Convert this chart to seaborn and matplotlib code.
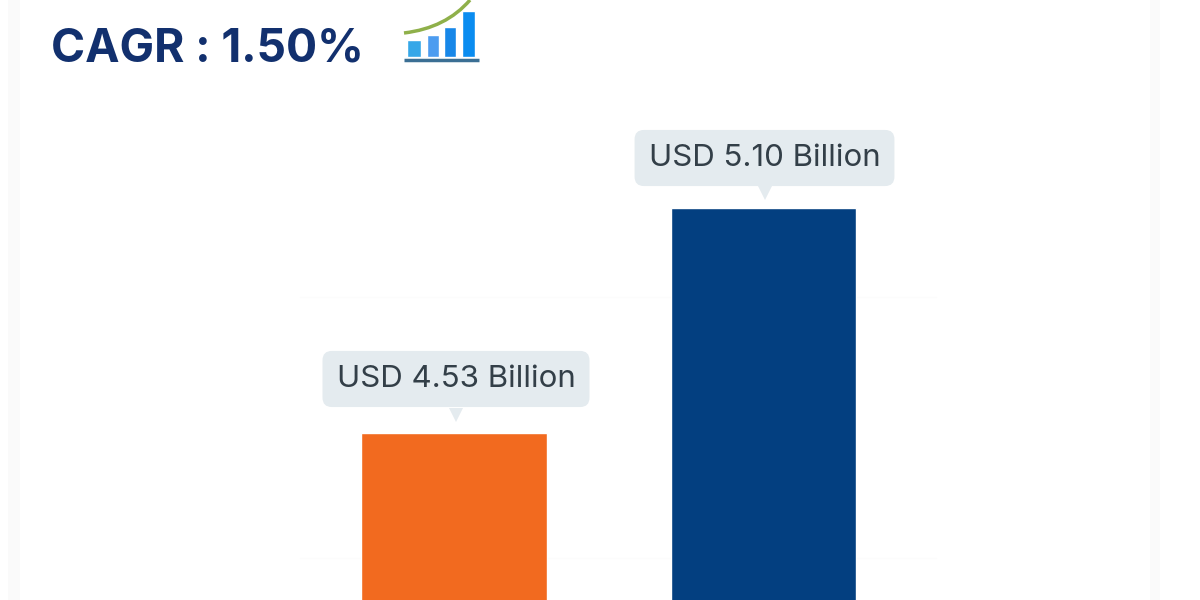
import matplotlib
matplotlib.use("Agg")
import matplotlib.pyplot as plt
import matplotlib.patches as mpatches
from matplotlib.path import Path
from matplotlib.transforms import Affine2D
import pandas as pd
import seaborn as sns

# Chart values
years = ["Base", "Forecast"]
market_size = [4.53, 5.10]
bar_colors = ["#f26a1f", "#033f80"]
value_labels = ["USD 4.53 Billion", "USD 5.10 Billion"]
cagr_text = "CAGR : 1.50%"
grid_levels = [4.875, 4.213]

# Little growth icon next to the CAGR text
icon_heights = [17, 22, 30, 46]
icon_colors = ["#35a7e8", "#4c9cf0", "#1787e8", "#0a8cf0"]

W, H = 1200, 600

sns.set_theme(style="white")
plt.rcParams["font.family"] = ["Inter", "DejaVu Sans"]

fig = plt.figure(figsize=(12, 6), dpi=100, facecolor="white")
ax = fig.add_axes([0, 0, 1, 1])
ax.patch.set_alpha(0)

df = pd.DataFrame({"year": years, "size": market_size})
sns.barplot(data=df, x="year", y="size", hue="year", palette=bar_colors,
            width=0.6, legend=False, ax=ax, saturation=1)

# bars are 309.5 px apart, axis is cut off at both ends
ax.set_xlim(-454 / 309.5, (W - 454) / 309.5)
ax.set_ylim(5.10 - 392 / 394.7, 5.10 + 208 / 394.7)
ax.axis("off")

# barely visible grid behind the bars
for level in grid_levels:
    ax.axhline(level, xmin=0.25, xmax=0.78, color="#fcfcfc", lw=1, zorder=0)

# value callouts, placed relative to the top of each bar
label_dx = [2, 1]
label_dy = [54, 50]
tip_dy = [18, 15]
for i, (val, text) in enumerate(zip(market_size, value_labels)):
    ax.annotate(text, xy=(i, val), xytext=(label_dx[i], label_dy[i]),
                textcoords="offset pixels", ha="center", va="center",
                fontsize=22.5, color="#333f48", zorder=5,
                bbox=dict(boxstyle="round,pad=0.45,rounding_size=0.3",
                          fc="#e4ebef", ec="none"))
    ax.plot(i, val, marker="v", ms=10, color="#e4ebef", mew=0, zorder=4,
            transform=ax.transData + Affine2D().translate(label_dx[i], tip_dy[i]))

fig.text(51 / W, 1 - 49 / H, cagr_text, fontsize=33.2, fontweight="bold",
         color="#12306e", ha="left", va="center")

# pale card edges on both sides
for left, width in [(8, 12), (1150, 10)]:
    fig.add_artist(mpatches.Rectangle((left / W, 0), width / W, 1, transform=fig.transFigure,
                                      fc="#fafafa", ec="none"))

# growth icon, its own small axes in pixel units
icon = fig.add_axes([400 / W, 1 - 64 / H, 84 / W, 64 / H])
icon.set_xlim(400, 484)
icon.set_ylim(64, 0)
icon.axis("off")
icon.patch.set_alpha(0)
icon.bar([414, 432.5, 450, 468.5], icon_heights, bottom=[57 - h for h in icon_heights],
         width=[14, 12, 12, 13], color=icon_colors)
icon.plot([404, 479], [59.5, 59.5], color="#3b6f94", lw=2.5, solid_capstyle="butt")
curve = Path([(404, 33), (446, 28), (470, 0)], [Path.MOVETO, Path.CURVE3, Path.CURVE3])
icon.add_patch(mpatches.PathPatch(curve, fc="none", ec="#8fb04a", lw=2.5))

fig.savefig("out.png", dpi=100)
